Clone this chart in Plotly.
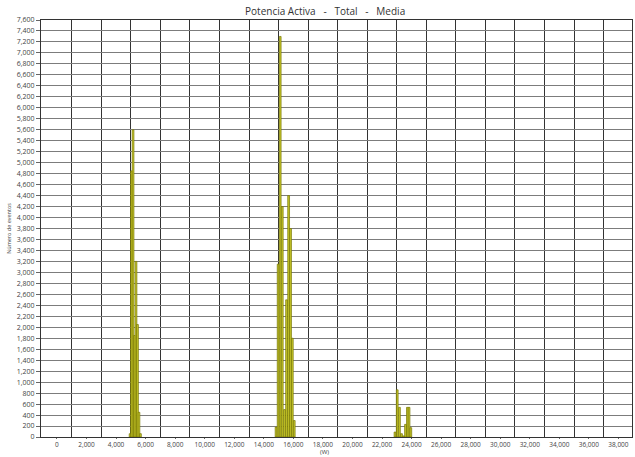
import plotly.graph_objects as go

# Histogram bins (bin centre in W, number of events)
c1_x = [4950, 5050, 5150, 5250, 5350, 5450, 5550, 5650]
c1_y = [60, 4850, 5600, 1850, 3200, 2050, 450, 60]

c2_x = [14830, 14970, 15110, 15250, 15400, 15540, 15680, 15810, 15930, 16060]
c2_y = [180, 3150, 7300, 4200, 500, 2500, 4400, 3800, 1800, 300]

c3_x = [22880, 23030, 23180, 23320, 23460, 23590, 23720, 23830, 23950]
c3_y = [90, 860, 540, 60, 20, 230, 540, 540, 170]

x_ticks = list(range(0, 38001, 2000))
x_ticktext = [f"{v:,}" for v in x_ticks]
x_grid = list(range(1000, 39001, 2000))

title_text = "Potencia Activa\u00a0\u00a0 - \u00a0\u00a0Total\u00a0\u00a0 - \u00a0\u00a0Media"
y_title = "Número de eventos"
x_title = "(W)"

bar_fill = "#c8c82a"
bar_line = "#767600"
font = "Open Sans, DejaVu Sans, sans-serif"

fig = go.Figure()
for xs, ys in [(c1_x, c1_y), (c2_x, c2_y), (c3_x, c3_y)]:
    fig.add_trace(go.Bar(
        x=xs, y=ys, width=120,
        marker=dict(color=bar_fill, line=dict(color=bar_line, width=0.7)),
        showlegend=False,
    ))

fig.update_layout(
    width=635, height=457,
    margin=dict(l=41, r=3, t=20, b=20, autoexpand=False),
    paper_bgcolor="white", plot_bgcolor="white",
    barmode="overlay",
    font=dict(family=font, size=7, color="#444"),
    title=dict(text=title_text, x=0.512, xanchor="center", y=0.982, yanchor="top",
               font=dict(family=font, size=10, color="#333"), automargin=False),
    xaxis=dict(
        range=[-1080, 38920], automargin=False,
        tickmode="array", tickvals=x_ticks, ticktext=x_ticktext,
        showgrid=False, zeroline=False,
        ticks="outside", ticklen=1, tickcolor="#666",
        showline=True, linecolor="#333", linewidth=1, mirror=True,
        tickfont=dict(size=6.5, color="#444"),
        minor=dict(tickvals=x_grid, showgrid=True, gridcolor="#333", gridwidth=1, ticks=""),
    ),
    yaxis=dict(
        range=[0, 7600], dtick=200, tickformat=",d", automargin=False,
        showgrid=True, gridcolor="#7c7c7c", gridwidth=1, zeroline=False,
        ticks="outside", ticklen=4, tickcolor="#666",
        showline=True, linecolor="#333", linewidth=1, mirror=True,
        tickfont=dict(size=7, color="#444"),
        title=dict(text=y_title, font=dict(size=5.5, color="#444"), standoff=4),
    ),
    annotations=[dict(text=x_title, xref="paper", yref="paper", x=0.479, y=-0.048,
                      xanchor="center", yanchor="bottom", showarrow=False, borderpad=0,
                      font=dict(size=6, color="#444"))],
)

fig.write_html(
    "out.html",
    config={"displayModeBar": False},
    post_script="document.body.style.margin='0';document.body.style.overflow='hidden';",
)
